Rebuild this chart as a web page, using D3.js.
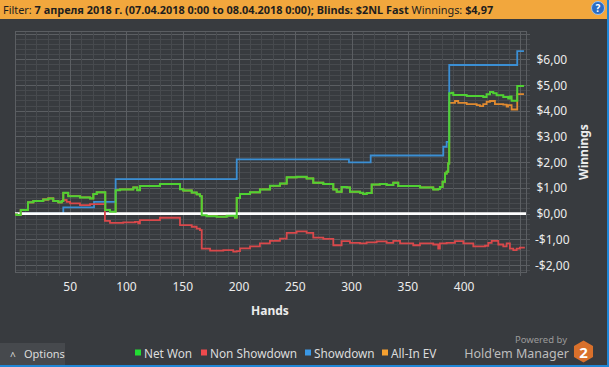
<!DOCTYPE html>
<html>
<head>
<meta charset="utf-8">
<script src="https://cdnjs.cloudflare.com/ajax/libs/d3/7.8.5/d3.min.js"></script>
<style>
  html, body { margin: 0; padding: 0; background: #383b3f; overflow: hidden; }
  svg { display: block; font-family: "Noto Sans", "Open Sans", sans-serif; }
</style>
</head>
<body>
<div id="chart"></div>
<script>
// [hand, winnings], value holds until the next point
const netWon = [
  [1, -0.03], [2.8, -0.05], [6.1, 0.14], [12.5, 0.44], [17.3, 0.49], [26.1, 0.55],
  [30.6, 0.59], [35, 0.49], [39.5, 0.44], [42.5, 0.49], [43.9, 0.81], [48.3, 0.68],
  [58.7, 0.63], [67.6, 0.59], [70.6, 0.76], [73.6, 0.83], [81.2, 0.14], [85.4, 0.07],
  [90.4, 0.91], [94.3, 0.94], [106.1, 1.02], [109.6, 0.91], [112, 1.07], [129.8, 1.15],
  [147.6, 0.95], [150.5, 0.9], [158, 0.82], [162.4, 0.75], [165.3, 0.68], [166.9, -0.06],
  [171.3, -0.1], [180.2, -0.12], [189.1, -0.08], [196.4, -0.15], [198, 0.61], [200.9, 0.76],
  [209.8, 0.83], [218.6, 0.94], [227.5, 1.08], [236.4, 1.17], [242.4, 1.41], [251.2, 1.43],
  [260.1, 1.37], [266, 1.2], [274.9, 1.15], [283.8, 0.94], [286.8, 0.85], [291.2, 1.04],
  [295.7, 1.02], [298.6, 0.85], [307.5, 0.81], [310.4, 0.76], [313.4, 0.8], [317.9, 1.13],
  [325.2, 1.15], [331.2, 1.11], [337.1, 1.2], [341.5, 1.07], [360.8, 1.02], [372.6, 0.94],
  [377, 0.96], [378.5, 1.04], [380.9, 1.24], [383, 1.56], [384.5, 1.63], [385.9, 1.95],
  [386.8, 4.68], [389, 4.7], [390.4, 4.61], [402.3, 4.57], [417, 4.54], [420, 4.64],
  [423, 4.73], [425.9, 4.68], [428.9, 4.6], [434.8, 4.54], [439.2, 4.48], [440.7, 4.55],
  [442.2, 4.39], [447.2, 4.96], [453.2, 4.96]
]

const nonShowdown = [
  [1, -0.03], [2.8, -0.05], [6.1, 0.14], [12.5, 0.44], [17.3, 0.49], [26.1, 0.55],
  [30.6, 0.59], [35, 0.49], [39.5, 0.44], [42.5, 0.49], [43.9, 0.53], [46.9, 0.46],
  [49.9, 0.4], [58.7, 0.33], [67.6, 0.37], [80.9, -0.28], [85.4, -0.36], [97.2, -0.34],
  [107.6, -0.32], [110.5, -0.38], [112, -0.25], [129.8, -0.16], [147.6, -0.45], [158, -0.51],
  [162.4, -0.58], [165.3, -0.64], [166.9, -1.36], [174.3, -1.44], [186.1, -1.42], [194.9, -1.48],
  [198, -1.46], [200.9, -1.35], [209.8, -1.27], [218.6, -1.16], [227.5, -1.06], [236.4, -0.97],
  [242.4, -0.75], [251.2, -0.69], [260.1, -0.75], [266, -0.93], [274.9, -0.98], [283.8, -1.23],
  [291.2, -1.07], [298.6, -1.14], [307.5, -1.16], [313.4, -1.12], [322.3, -1.08], [331.2, -1.14],
  [337.1, -1.06], [343.1, -1.16], [354.8, -1.23], [360.8, -1.16], [372.6, -1.2], [377, -1.36],
  [378.5, -1.16], [384.5, -1.14], [391.9, -1.07], [399.3, -1.16], [408.2, -1.27], [418.6, -1.25],
  [421.5, -1.14], [424.5, -1.06], [430.4, -1.2], [434.8, -1.27], [437.8, -1.16], [440.7, -1.36],
  [443.7, -1.42], [446.7, -1.36], [449.6, -1.32], [453.2, -1.36]
]

const showdown = [
  [1, 0], [43.9, 0.24], [71.2, 0.46], [90.4, 1.34], [198, 2.11], [297.7, 1.99],
  [317, 2.26], [381.5, 2.6], [384.5, 2.79], [386.8, 5.78], [447.2, 6.32], [453.2, 6.32]
]

// all-in EV follows net won until the big all-in near hand 387
const allInEvTail = [
  [386.8, 4.31], [391.9, 4.38], [394.8, 4.31], [402.3, 4.26], [411.2, 4.22], [414.1, 4.18],
  [417, 4.26], [420, 4.35], [423, 4.38], [427.4, 4.26], [434.8, 4.24], [437.8, 4.16],
  [439.2, 4.22], [442.2, 4.05], [447.2, 4.65], [453.2, 4.65]
]

const handTicks = [50, 100, 150, 200, 250, 300, 350, 400]
const winTicks = [-2, -1, 0, 1, 2, 3, 4, 5, 6]
const seriesNames = ['Net Won', 'Non Showdown', 'Showdown', 'All-In EV']
const seriesColors = ['#4fd133', '#d9484b', '#3b8fd4', '#e08a30']
const legendColors = ['#22dd33', '#ee4a4d', '#3a98e6', '#f5a030']

const allInEv = netWon.filter(function(d) { return d[0] < 386.8 }).concat(allInEvTail)

const width = 609,
      height = 367,
      plotLeft = 15,
      plotRight = 526,
      plotTop = 31.3,
      plotBottom = 272

const xScale = d3.scaleLinear().domain([1, 455]).range([plotLeft, plotRight]),
      yScale = d3.scaleLinear().domain([-2.27, 7.09]).range([plotBottom, plotTop])

const svg = d3.select('#chart')
              .append('svg')
              .attr('width', width)
              .attr('height', height)

svg.append('rect').attr('width', width).attr('height', height).attr('fill', '#383b3f')

// header bar
svg.append('rect').attr('width', width).attr('height', 19).attr('fill', '#f2a73d')
const header = svg.append('text')
                  .attr('x', 3)
                  .attr('y', 13.5)
                  .attr('font-size', 10.9)
                  .attr('fill', '#1e1e1e')
header.append('tspan').text('Filter: ')
header.append('tspan').attr('font-weight', 'bold')
      .text('7 апреля 2018 г. (07.04.2018 0:00 to 08.04.2018 0:00); Blinds: $2NL Fast')
header.append('tspan').text(' Winnings: ')
header.append('tspan').attr('font-weight', 'bold').text('$4,97')

svg.append('circle').attr('cx', 598).attr('cy', 8).attr('r', 6.5)
   .attr('fill', '#2a6cc4').attr('stroke', '#9cc3ef').attr('stroke-width', 1)
svg.append('text').attr('x', 598).attr('y', 12).attr('text-anchor', 'middle')
   .attr('font-size', 10).attr('font-weight', 'bold').attr('fill', '#fff').text('?')

// grid
const minorY = d3.range(-22, 71, 2).map(function(v) { return v / 10 }),
      minorX = d3.range(10, 455, 10)

const grid = svg.append('g')
grid.selectAll('.hminor')
    .data(minorY)
    .enter()
    .append('line')
    .attr('x1', plotLeft).attr('x2', plotRight + 4)
    .attr('y1', function(d) { return Math.round(yScale(d)) + 0.5 })
    .attr('y2', function(d) { return Math.round(yScale(d)) + 0.5 })
    .attr('stroke', function(d) { return Number.isInteger(d) ? '#5b5e62' : '#474a4e' })
grid.selectAll('.vminor')
    .data(minorX)
    .enter()
    .append('line')
    .attr('y1', plotTop).attr('y2', plotBottom + 4)
    .attr('x1', function(d) { return Math.round(xScale(d)) + 0.5 })
    .attr('x2', function(d) { return Math.round(xScale(d)) + 0.5 })
    .attr('stroke', function(d) { return d % 50 === 0 ? '#5b5e62' : '#474a4e' })
grid.append('rect')
    .attr('x', plotLeft + 0.5).attr('y', Math.round(plotTop) + 0.5)
    .attr('width', plotRight - plotLeft).attr('height', plotBottom - Math.round(plotTop))
    .attr('fill', 'none').attr('stroke', '#5b5e62')

// axes labels
svg.append('g')
   .selectAll('text')
   .data(handTicks)
   .enter()
   .append('text')
   .attr('x', function(d) { return xScale(d) })
   .attr('y', 291)
   .attr('text-anchor', 'middle')
   .attr('font-size', 12)
   .attr('fill', '#ececec')
   .text(function(d) { return d })

const money = function(v) {
  return (v < 0 ? '-' : '') + '$' + Math.abs(v).toFixed(2).replace('.', ',')
}
svg.append('g')
   .selectAll('text')
   .data(winTicks)
   .enter()
   .append('text')
   .attr('x', function(d) { return d < 0 ? 535 : 536.5 })
   .attr('y', function(d) { return yScale(d) + 4.5 })
   .attr('font-size', 12)
   .attr('fill', '#ececec')
   .text(function(d) { return money(d) })

svg.append('text').attr('x', 270).attr('y', 315).attr('text-anchor', 'middle')
   .attr('font-size', 12).attr('font-weight', 'bold').attr('fill', '#ececec').text('Hands')
svg.append('text').attr('transform', 'translate(588, 152) rotate(-90)').attr('text-anchor', 'middle')
   .attr('font-size', 12).attr('font-weight', 'bold').attr('fill', '#ececec').text('Winnings')

// lines
const line = d3.line()
               .x(function(d) { return xScale(d[0]) })
               .y(function(d) { return yScale(d[1]) })
               .curve(d3.curveStepAfter)

const plot = svg.append('g')
plot.append('path').datum(allInEv).attr('d', line)
    .attr('fill', 'none').attr('stroke', seriesColors[3]).attr('stroke-width', 1.8)
plot.append('path').datum(showdown).attr('d', line)
    .attr('fill', 'none').attr('stroke', seriesColors[2]).attr('stroke-width', 1.8)
plot.append('line')
    .attr('x1', plotLeft).attr('x2', plotRight)
    .attr('y1', yScale(0)).attr('y2', yScale(0))
    .attr('stroke', '#ffffff').attr('stroke-width', 2.6)
plot.append('path').datum(nonShowdown).attr('d', line)
    .attr('fill', 'none').attr('stroke', seriesColors[1]).attr('stroke-width', 1.8)
plot.append('path').datum(netWon).attr('d', line)
    .attr('fill', 'none').attr('stroke', seriesColors[0]).attr('stroke-width', 2)

// legend
const legendX = [135, 201, 305, 382]
const legend = svg.append('g')
                  .selectAll('g')
                  .data(seriesNames)
                  .enter()
                  .append('g')
                  .attr('transform', function(d, i) { return 'translate(' + legendX[i] + ', 353)' })
legend.append('rect').attr('x', 0).attr('y', -3.5).attr('width', 6).attr('height', 6)
      .attr('fill', function(d, i) { return legendColors[i] })
legend.append('text').attr('x', 9).attr('y', 4.5).attr('font-size', 11.8).attr('fill', '#dcdcdc')
      .text(function(d) { return d })

// options button
svg.append('rect').attr('x', 0).attr('y', 343).attr('width', 65).attr('height', 22).attr('fill', '#46494d')
svg.append('text').attr('x', 10).attr('y', 360).attr('font-size', 10).attr('fill', '#dcdcdc').text('^')
svg.append('text').attr('x', 24).attr('y', 358).attr('font-size', 11).attr('fill', '#dcdcdc').text('Options')

// branding
svg.append('text').attr('x', 567).attr('y', 343).attr('text-anchor', 'end')
   .attr('font-size', 9.5).attr('fill', '#9a9a9a').text('Powered by')
svg.append('text').attr('x', 569).attr('y', 357.5).attr('text-anchor', 'end')
   .attr('font-size', 12.5).attr('fill', '#bdbdbd').text("Hold'em Manager")
const hex = d3.range(6).map(function(i) {
  const a = Math.PI / 3 * i + Math.PI / 6
  return [583.5 + 11 * Math.cos(a), 351.5 + 11 * Math.sin(a)]
})
svg.append('polygon').attr('points', hex.join(' ')).attr('fill', '#d9702b')
svg.append('text').attr('x', 583.5).attr('y', 357.5).attr('text-anchor', 'middle')
   .attr('font-size', 15).attr('font-weight', 'bold').attr('fill', '#ffffff').text('2')

// window border
svg.append('rect').attr('x', 0).attr('y', 365).attr('width', width).attr('height', 2).attr('fill', '#1f86d6')
svg.append('rect').attr('x', 607).attr('y', 0).attr('width', 2).attr('height', height).attr('fill', '#1f86d6')
</script>
</body>
</html>
